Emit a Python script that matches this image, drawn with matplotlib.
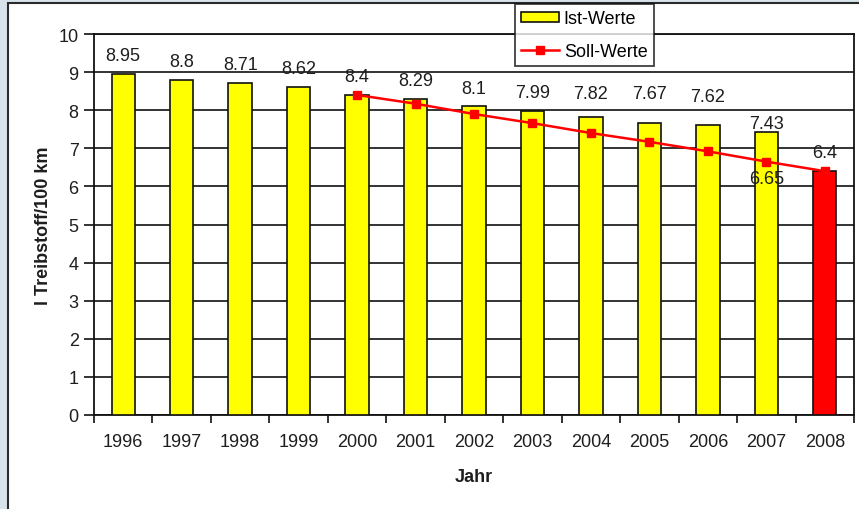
import matplotlib
matplotlib.use("Agg")
import matplotlib.pyplot as plt
from matplotlib.patches import Rectangle, Patch
from matplotlib.lines import Line2D

plt.rcParams['font.family'] = ['Liberation Sans', 'DejaVu Sans']

years = ['1996', '1997', '1998', '1999', '2000', '2001', '2002',
         '2003', '2004', '2005', '2006', '2007', '2008']
ist_werte = [8.95, 8.8, 8.71, 8.62, 8.4, 8.29, 8.1, 7.99, 7.82, 7.67, 7.62, 7.43, 6.4]
ist_labels = ['8.95', '8.8', '8.71', '8.62', '8.4', '8.29', '8.1',
              '7.99', '7.82', '7.67', '7.62', '7.43', '6.4']
soll_years = ['2000', '2001', '2002', '2003', '2004', '2005', '2006', '2007', '2008']
soll_werte = [8.4, 8.17, 7.9, 7.66, 7.4, 7.17, 6.92, 6.65, 6.4]
yticks = [0, 1, 2, 3, 4, 5, 6, 7, 8, 9, 10]

# layout nudges (points) for the hand-placed value labels
label_nudge = {'2004': 4, '2005': 8, '2006': 7, '2007': -7}

FS = 13
TXT = '#1e1e1e'
fig = plt.figure(figsize=(8.59, 5.10), dpi=100)
fig.patch.set_facecolor('#d6e3ea')
fig.add_artist(Rectangle((8 / 859, -0.05), 1.0, 1.05 - 4 / 510, transform=fig.transFigure,
                         facecolor='white', edgecolor='#2a2a2a', linewidth=1.5, zorder=0))

ax = fig.add_axes([94 / 859, 1 - 416 / 510, (854 - 94) / 859, (416 - 35) / 510])
ax.set_facecolor('white')
ax.set_zorder(1)

x = list(range(len(years)))
colors = ['#ffff00'] * (len(years) - 1) + ['#ff0000']
ax.bar(x, ist_werte, width=0.4, color=colors, edgecolor='#111111', linewidth=1.2, zorder=3)

sx = [years.index(y) for y in soll_years]
ax.plot(sx, soll_werte, color='#ff0000', linewidth=1.8, marker='s', markersize=6,
        markerfacecolor='#ff0000', markeredgecolor='#ff0000', zorder=4)

for i, (v, lab) in enumerate(zip(ist_werte, ist_labels)):
    ax.annotate(lab, (i, v), xytext=(0, 7 + label_nudge.get(years[i], 0)),
                textcoords='offset points', ha='center', va='bottom',
                fontsize=FS, color=TXT, zorder=5)
# Soll label for 2007 (below the point)
j07 = soll_years.index('2007')
ax.annotate(f"{soll_werte[j07]:.2f}", (years.index('2007'), soll_werte[j07]),
            xytext=(0, -6), textcoords='offset points', ha='center', va='top',
            fontsize=FS, color=TXT, zorder=5)

ax.set_xlim(-0.5, len(years) - 0.5)
ax.set_ylim(0, 10)
ax.set_yticks(yticks)
ax.set_yticklabels([str(t) for t in yticks])
ax.grid(axis='y', color='#111111', linewidth=1.2, zorder=1)
ax.set_axisbelow(True)

ax.set_xticks(x)
ax.set_xticklabels(years)
ax.set_xticks([i - 0.5 for i in range(len(years) + 1)], minor=True)
ax.tick_params(axis='x', which='major', length=0, pad=13, labelsize=FS, labelcolor=TXT)
ax.tick_params(axis='x', which='minor', length=6, width=1.2, color='#111111', direction='out')
ax.tick_params(axis='y', length=7, width=1.2, color='#111111', direction='out',
               labelsize=FS, labelcolor=TXT, pad=4)
for s in ax.spines.values():
    s.set_color('#111111')
    s.set_linewidth(1.3)

ax.set_xlabel('Jahr', fontsize=FS, fontweight='bold', color=TXT, labelpad=13)
ax.set_ylabel('l Treibstoff/100 km', fontsize=FS, fontweight='bold', color=TXT, labelpad=5)

handles = [Patch(facecolor='#ffff00', edgecolor='#111111', linewidth=1.2),
           Line2D([0], [0], color='#ff0000', linewidth=1.8, marker='s', markersize=6)]
leg = fig.legend(handles, ['Ist-Werte', 'Soll-Werte'], loc='upper left',
                 bbox_to_anchor=(515 / 859, 1 - 5 / 510), frameon=True, fancybox=False,
                 edgecolor='#111111', fontsize=FS, borderaxespad=0, handlelength=2.1,
                 handleheight=0.5, handletextpad=0.25, labelspacing=0.85, borderpad=0.35)
leg.get_frame().set_linewidth(1.3)
leg.set_zorder(10)

fig.savefig('out.png', dpi=100, facecolor=fig.get_facecolor())
